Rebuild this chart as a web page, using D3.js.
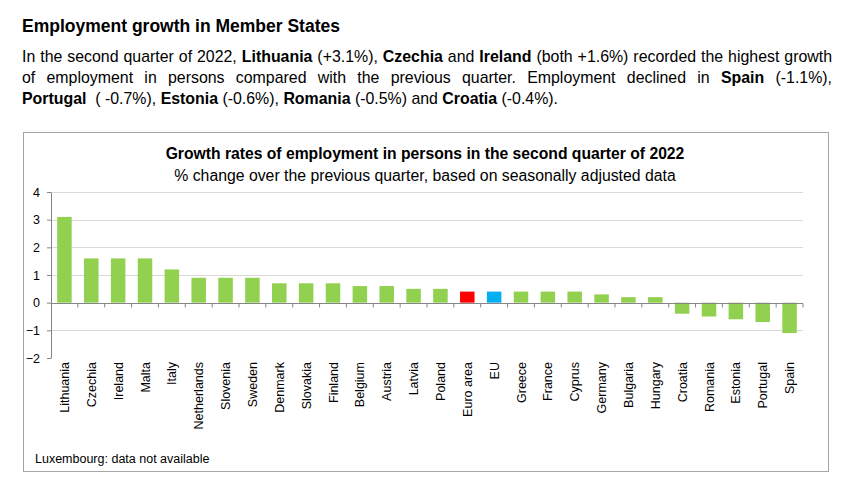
<!DOCTYPE html>
<html lang="en">
<head>
<meta charset="UTF-8">
<title>Employment growth in Member States</title>
<script src="https://d3js.org/d3.v7.min.js"></script>
<style>
  body { margin: 0; background: #fff; }
  text { font-family: 'Liberation Sans', Arial, sans-serif; fill: #000; }
</style>
</head>
<body>
<script>
  const width  = 860;
  const height = 490;

  const countries = ["Lithuania", "Czechia", "Ireland", "Malta", "Italy", "Netherlands", "Slovenia",
    "Sweden", "Denmark", "Slovakia", "Finland", "Belgium", "Austria", "Latvia", "Poland",
    "Euro area", "EU", "Greece", "France", "Cyprus", "Germany", "Bulgaria", "Hungary",
    "Croatia", "Romania", "Estonia", "Portugal", "Spain"];
  const growth = [3.1, 1.6, 1.6, 1.6, 1.2, 0.9, 0.9, 0.9, 0.7, 0.7, 0.7, 0.6, 0.6, 0.5, 0.5,
    0.4, 0.4, 0.4, 0.4, 0.4, 0.3, 0.2, 0.2, -0.4, -0.5, -0.6, -0.7, -1.1];
  const yTicks = [-2, -1, 0, 1, 2, 3, 4];

  // paragraph lines: [text, bold] pieces
  const paragraph = [
    [["In the second quarter of 2022, ", 0], ["Lithuania", 1], [" (+3.1%), ", 0], ["Czechia", 1],
     [" and ", 0], ["Ireland", 1], [" (both +1.6%) recorded the highest growth", 0]],
    [["of employment in persons compared with the previous quarter. Employment declined in ", 0],
     ["Spain", 1], [" (-1.1%),", 0]],
    [["Portugal", 1], ["  ( -0.7%), ", 0], ["Estonia", 1], [" (-0.6%), ", 0], ["Romania", 1],
     [" (-0.5%) and ", 0], ["Croatia", 1], [" (-0.4%).", 0]]
  ];

  const svg = d3.select("body").append("svg")
      .attr("width", width)
      .attr("height", height);

  svg.append("text")
      .attr("x", 22).attr("y", 32)
      .style("font-size", "17.5px").style("font-weight", "bold")
      .text("Employment growth in Member States");

  const paraW = 810;
  paragraph.forEach((line, i) => {
    const t = svg.append("text")
        .attr("x", 22).attr("y", 62 + i * 21)
        .style("font-size", "15.9px")
        .attr("xml:space", "preserve");
    line.forEach(p => t.append("tspan")
        .style("font-weight", p[1] ? "bold" : "normal")
        .text(p[0]));
    // justify every line but the last
    if (i < paragraph.length - 1) {
      const natural = t.node().getComputedTextLength();
      const spaces = line.map(p => p[0]).join("").split(" ").length - 1;
      t.attr("word-spacing", (paraW - natural) / spaces);
    }
  });

  // chart frame
  svg.append("rect")
      .attr("x", 23.5).attr("y", 132.5)
      .attr("width", 805).attr("height", 339)
      .attr("fill", "none")
      .attr("stroke", "#a6a6a6");

  svg.append("text")
      .attr("x", 425).attr("y", 159)
      .attr("text-anchor", "middle")
      .style("font-size", "15.7px").style("font-weight", "bold")
      .text("Growth rates of employment in persons in the second quarter of 2022");

  svg.append("text")
      .attr("x", 425).attr("y", 181)
      .attr("text-anchor", "middle")
      .style("font-size", "15.8px")
      .text("% change over the previous quarter, based on seasonally adjusted data");

  const x = d3.scaleBand()
      .domain(countries)
      .range([51, 803])
      .paddingInner(0.46)
      .paddingOuter(0.23);

  const y = d3.scaleLinear()
      .domain([-2, 4])
      .range([358, 192]);

  // gridlines
  svg.append("g")
      .selectAll("line")
      .data(yTicks.filter(d => d !== -2 && d !== 0))
      .join("line")
      .attr("x1", 51).attr("x2", 803)
      .attr("y1", d => Math.round(y(d)) + 0.5)
      .attr("y2", d => Math.round(y(d)) + 0.5)
      .attr("stroke", "#d9d9d9");

  // bars
  svg.append("g")
      .selectAll("rect")
      .data(countries)
      .join("rect")
      .attr("x", d => x(d))
      .attr("width", x.bandwidth())
      .attr("y", (d, i) => y(Math.max(0, growth[i])))
      .attr("height", (d, i) => Math.abs(y(growth[i]) - y(0)))
      .attr("fill", d => d === "Euro area" ? "#ff0000" : d === "EU" ? "#00b0f0" : "#92d050");

  // y axis
  const yAxis = svg.append("g")
      .attr("transform", "translate(51,0)")
      .call(d3.axisLeft(y).tickValues(yTicks).tickFormat(d3.format("d"))
        .tickSize(4).tickSizeOuter(0).tickPadding(7));
  yAxis.select(".domain").attr("stroke", "#868686");
  yAxis.selectAll(".tick line").attr("stroke", "#868686");
  yAxis.selectAll("text").style("font-size", "12.5px").attr("fill", "#000");

  // zero line with category ticks
  const step = x.step();
  const zero = svg.append("g")
      .attr("transform", `translate(0,${Math.round(y(0)) + 0.5})`);
  zero.append("line")
      .attr("x1", 51).attr("x2", 803)
      .attr("stroke", "#868686");
  zero.selectAll("line.tk")
      .data(d3.range(1, countries.length + 1))
      .join("line").attr("class", "tk")
      .attr("x1", i => 51 + i * step).attr("x2", i => 51 + i * step)
      .attr("y1", 0).attr("y2", 4)
      .attr("stroke", "#868686");

  // category labels
  svg.append("g")
      .selectAll("text")
      .data(countries)
      .join("text")
      .attr("transform", d => `translate(${x(d) + x.bandwidth() / 2 + 4.5},362) rotate(-90)`)
      .attr("text-anchor", "end")
      .style("font-size", "12.5px")
      .text(d => d);

  svg.append("text")
      .attr("x", 35).attr("y", 463)
      .style("font-size", "12.5px")
      .text("Luxembourg: data not available");
</script>
</body>
</html>
